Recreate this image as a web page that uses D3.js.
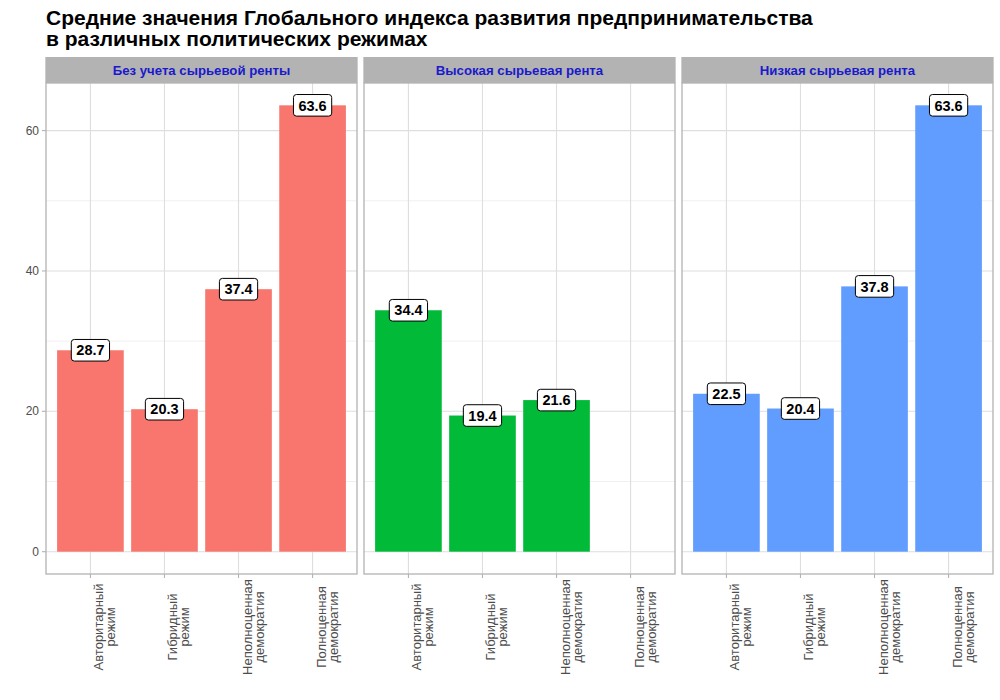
<!doctype html>
<html lang="ru">
<head>
<meta charset="utf-8">
<title>ГИРП по политическим режимам</title>
<style>
  body { margin: 0; background: #fff; font-family: "Liberation Sans", Arial, sans-serif; }
  svg text { font-family: "Liberation Sans", Arial, sans-serif; }
</style>
</head>
<body>
<div id="chart"></div>
<script src="https://d3js.org/d3.v7.min.js"></script>
<script>
// data
const titleLines = ["Средние значения Глобального индекса развития предпринимательства",
                    "в различных политических режимах"];
const facets = ["Без учета сырьевой ренты", "Высокая сырьевая рента", "Низкая сырьевая рента"];
const categories = ["Авторитарный\nрежим", "Гибридный\nрежим", "Неполноценная\nдемократия", "Полноценная\nдемократия"];
const valuesNoRent = [28.7, 20.3, 37.4, 63.6];
const valuesHighRent = [34.4, 19.4, 21.6, null];
const valuesLowRent = [22.5, 20.4, 37.8, 63.6];
const yTicks = [0, 20, 40, 60];
const yMinorTicks = [10, 30, 50];

const series = [valuesNoRent, valuesHighRent, valuesLowRent];
const colours = ["#F8766D", "#00BA38", "#619CFF"];

const W = 1000, H = 700;
const panelLeft = 46, panelW = 311, gap = 7;
const stripTop = 57, stripH = 26;
const panelTop = stripTop + stripH, panelBottom = 574;

const svg = d3.select("#chart").append("svg")
    .attr("width", W).attr("height", H);

// title
svg.append("g").selectAll("text").data(titleLines).join("text")
    .attr("x", 46)
    .attr("y", (d, i) => 25 + i * 21)
    .style("font-size", "21px")
    .style("font-weight", "bold")
    .style("fill", "#000")
    .text(d => d);

// shared y scale (ggplot adds 5% on each side)
const yMax = d3.max(series.flat());
const y = d3.scaleLinear()
    .domain([0 - yMax * 0.05, yMax * 1.05])
    .range([panelBottom, panelTop]);

series.forEach(function (vals, f) {
    const x0 = panelLeft + f * (panelW + gap);
    const x = d3.scalePoint()
        .domain(categories)
        .range([x0, x0 + panelW])
        .padding(0.6);
    const bw = x.step() * 0.9;

    const g = svg.append("g");

    // grid
    g.selectAll(".minor").data(yMinorTicks).join("line")
        .attr("x1", x0).attr("x2", x0 + panelW)
        .attr("y1", d => y(d)).attr("y2", d => y(d))
        .style("stroke", "#e6e6e6").style("stroke-width", 0.6);
    g.selectAll(".major").data(yTicks).join("line")
        .attr("x1", x0).attr("x2", x0 + panelW)
        .attr("y1", d => y(d)).attr("y2", d => y(d))
        .style("stroke", "#dedede").style("stroke-width", 1.1);
    g.selectAll(".vgrid").data(categories).join("line")
        .attr("x1", d => x(d)).attr("x2", d => x(d))
        .attr("y1", panelTop).attr("y2", panelBottom)
        .style("stroke", "#dedede").style("stroke-width", 1.1);

    // bars
    const rows = categories.map((c, i) => ({ c: c, v: vals[i] })).filter(d => d.v != null);
    g.selectAll(".bar").data(rows).join("rect")
        .attr("x", d => x(d.c) - bw / 2)
        .attr("width", bw)
        .attr("y", d => y(d.v))
        .attr("height", d => y(0) - y(d.v))
        .style("fill", colours[f]);

    // panel border
    g.append("rect")
        .attr("x", x0).attr("y", panelTop)
        .attr("width", panelW).attr("height", panelBottom - panelTop)
        .style("fill", "none").style("stroke", "#b3b3b3").style("stroke-width", 1.3);

    // strip
    g.append("rect")
        .attr("x", x0 - 0.65).attr("y", stripTop)
        .attr("width", panelW + 1.3).attr("height", stripH)
        .style("fill", "#b3b3b3");
    g.append("text")
        .attr("x", x0 + panelW / 2).attr("y", stripTop + stripH / 2 + 4.6)
        .attr("text-anchor", "middle")
        .style("font-size", "13.2px").style("font-weight", "bold")
        .style("fill", "#1a1acc")
        .text(facets[f]);

    // labels
    const lab = g.selectAll(".lab").data(rows).join("g")
        .attr("transform", d => `translate(${x(d.c)},${y(d.v)})`);
    lab.append("text")
        .attr("text-anchor", "middle")
        .attr("y", 5.2)
        .style("font-size", "14.5px").style("font-weight", "bold")
        .style("fill", "#000")
        .text(d => d.v.toFixed(1));
    lab.each(function () {
        const t = d3.select(this).select("text");
        const bb = t.node().getBBox();
        d3.select(this).insert("rect", "text")
            .attr("x", bb.x - 5).attr("y", -10.8)
            .attr("width", bb.width + 10).attr("height", 21.6)
            .attr("rx", 3).attr("ry", 3)
            .style("fill", "#fff").style("stroke", "#000").style("stroke-width", 1);
    });

    // x axis ticks + labels
    const xa = g.append("g");
    xa.selectAll("line").data(categories).join("line")
        .attr("x1", d => x(d)).attr("x2", d => x(d))
        .attr("y1", panelBottom).attr("y2", panelBottom + 4)
        .style("stroke", "#b3b3b3").style("stroke-width", 1.1);
    const tl = xa.selectAll("text").data(categories).join("text")
        .attr("transform", d => `translate(${x(d) + 13},627) rotate(-90)`)
        .attr("text-anchor", "middle")
        .style("font-size", "13px")
        .style("fill", "#4d4d4d");
    tl.selectAll("tspan").data(d => d.split("\n")).join("tspan")
        .attr("x", 0)
        .attr("dy", (d, i) => i === 0 ? 0 : 12)
        .text(d => d);

    // y axis only on first panel
    if (f === 0) {
        const ya = svg.append("g");
        ya.selectAll("line").data(yTicks).join("line")
            .attr("x1", x0 - 4).attr("x2", x0)
            .attr("y1", d => y(d)).attr("y2", d => y(d))
            .style("stroke", "#b3b3b3").style("stroke-width", 1.1);
        ya.selectAll("text").data(yTicks).join("text")
            .attr("x", x0 - 7).attr("y", d => y(d) + 4)
            .attr("text-anchor", "end")
            .style("font-size", "12px").style("fill", "#4d4d4d")
            .text(d => d);
    }
});
</script>
</body>
</html>
